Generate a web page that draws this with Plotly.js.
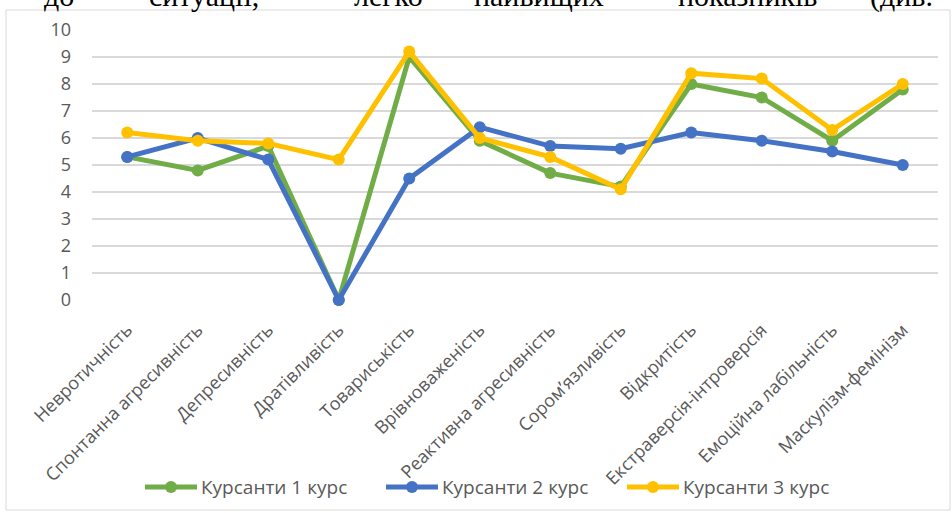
<!DOCTYPE html>
<html>
<head>
<meta charset="utf-8">
<script src="https://cdn.plot.ly/plotly-3.0.1.min.js"></script>
<style>html,body{margin:0;padding:0;background:#fff;}#chart{width:952px;height:513px;}</style>
</head>
<body>
<div id="chart"></div>
<script>
const categories = ["Невротичність","Спонтанна агресивність","Депресивність","Дратівливість","Товариськість","Врівноваженість","Реактивна агресивність","Сором’язливість","Відкритість","Екстраверсія-інтроверсія","Емоційна лабільність","Маскулізм-фемінізм"];
const course1 = [5.3, 4.8, 5.7, 0.0, 9.0, 5.9, 4.7, 4.2, 8.0, 7.5, 5.9, 7.8];
const course2 = [5.3, 6.0, 5.2, 0.0, 4.5, 6.4, 5.7, 5.6, 6.2, 5.9, 5.5, 5.0];
const course3 = [6.2, 5.9, 5.8, 5.2, 9.2, 6.0, 5.3, 4.1, 8.4, 8.2, 6.3, 8.0];
const seriesNames = ["Курсанти 1 курс","Курсанти 2 курс","Курсанти 3 курс"];
const yTicks = [0,1,2,3,4,5,6,7,8,9,10];
const topWords = ["до","ситуації,","легко","найвищих","показників","(див."];

const colors = ["#70AD47","#4472C4","#FFC000"];
const W = 952, H = 513, L = 92, R = 14, T = 30, B = 213;
const pw = W - L - R, ph = H - T - B;
const px = x => (x - L) / pw;
const py = y => (H - B - y) / ph;

const traces = [course1, course2, course3].map((v, i) => ({
  x: categories, y: v, name: seriesNames[i], type: "scatter", mode: "lines+markers",
  line: {color: colors[i], width: 5}, marker: {color: colors[i], size: 12},
  cliponaxis: false, showlegend: false
}));

const wordX = [42, 147, 352, 472, 676, 868];
const annotations = topWords.map((w, i) => ({
  text: w, xref: "paper", yref: "paper", x: px(wordX[i]), y: py(-4),
  xanchor: "left", yanchor: "middle", showarrow: false,
  font: {family: "Liberation Serif", size: 30, color: "#000"}
}));

// custom legend
const legX = [145, 386, 627], legY = 487, legLen = 52;
const shapes = [{type: "rect", xref: "paper", yref: "paper", x0: px(6), x1: px(950), y0: py(510), y1: py(10),
  line: {color: "#D9D9D9", width: 1}, layer: "below"}];
seriesNames.forEach((n, i) => {
  shapes.push({type: "line", xref: "paper", yref: "paper", x0: px(legX[i]), x1: px(legX[i] + legLen),
    y0: py(legY), y1: py(legY), line: {color: colors[i], width: 5}});
  const cx = legX[i] + legLen / 2, r = 6;
  shapes.push({type: "circle", xref: "paper", yref: "paper", x0: px(cx - r), x1: px(cx + r),
    y0: py(legY + r), y1: py(legY - r), fillcolor: colors[i], line: {color: colors[i], width: 0}});
  annotations.push({text: n, xref: "paper", yref: "paper", x: px(legX[i] + legLen + 2), y: py(legY),
    xanchor: "left", yanchor: "middle", showarrow: false,
    font: {family: "Open Sans", size: 19, color: "#595959"}});
});

const layout = {
  width: W, height: H,
  margin: {l: L, r: R, t: T, b: B},
  paper_bgcolor: "#fff", plot_bgcolor: "#fff",
  font: {family: "Open Sans", color: "#595959"},
  showlegend: false,
  xaxis: {type: "category", range: [-0.5, 11.5], tickangle: -45, showgrid: false, zeroline: false,
    showline: false, ticks: "", tickfont: {size: 18, color: "#595959"}, automargin: false,
    ticklabelstandoff: 15, fixedrange: true},
  yaxis: {range: [0, 10], tickvals: yTicks, showgrid: true, gridcolor: "#D9D9D9", gridwidth: 1.5,
    zeroline: false, showline: false, ticks: "", tickfont: {size: 18, color: "#595959"},
    automargin: false, ticklabelstandoff: 20, fixedrange: true},
  shapes: shapes,
  annotations: annotations
};
Plotly.newPlot("chart", traces, layout, {displayModeBar: false, staticPlot: true});
</script>
</body>
</html>
